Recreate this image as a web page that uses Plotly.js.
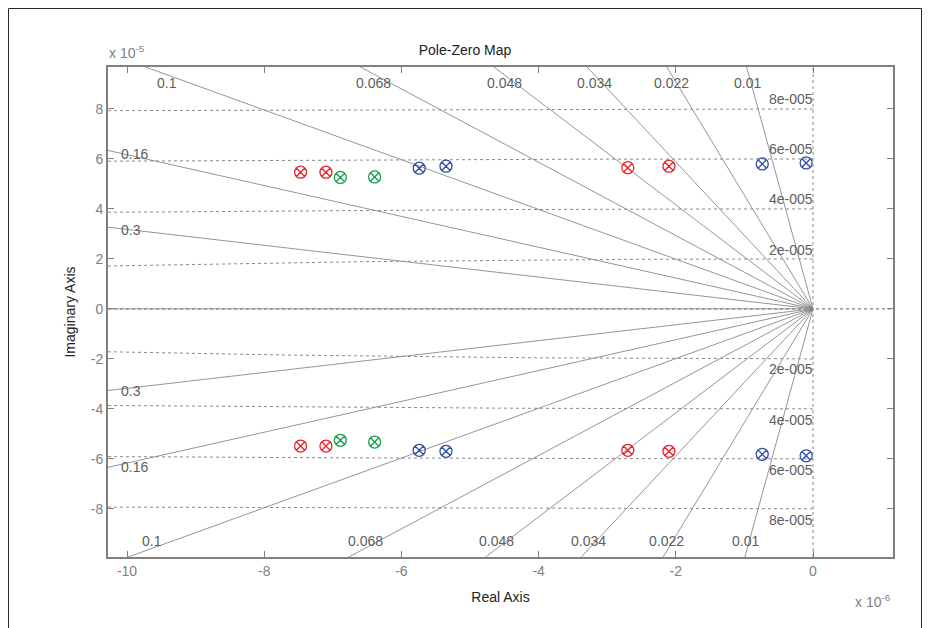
<!DOCTYPE html>
<html>
<head>
<meta charset="utf-8">
<script src="https://cdn.plot.ly/plotly-3.0.1.min.js"></script>
<style>html,body{margin:0;padding:0;background:#fff;}#chart{width:930px;height:628px;}</style>
</head>
<body>
<div id="chart"></div>
<script>
// Real parts in units of 1e-6, imaginary parts in units of 1e-5
const redReal = [-7.47, -7.10, -2.70, -2.10];
const redImagUpper = [5.47, 5.47, 5.65, 5.71];
const redImagLower = [-5.49, -5.49, -5.66, -5.70];
const greenReal = [-6.89, -6.39];
const greenImagUpper = [5.26, 5.28];
const greenImagLower = [-5.26, -5.33];
const blueReal = [-5.74, -5.35, -0.74, -0.10];
const blueImagUpper = [5.63, 5.71, 5.80, 5.84];
const blueImagLower = [-5.66, -5.70, -5.82, -5.88];

// Grid definitions
const zetaVals = [0.01, 0.022, 0.034, 0.048, 0.068, 0.1, 0.16, 0.3];
const wnVals = [2, 4, 6, 8]; // units of 1e-5
const xTicks = [-10, -8, -6, -4, -2, 0];
const yTicks = [-8, -6, -4, -2, 0, 2, 4, 6, 8];

const xRange = [-10.277, 1.166];
const yRange = [-9.93, 9.68];
const SCALE = 0.1; // (1e-6)/(1e-5) conversion of real-axis units into imag-axis units

// damping lines
const dzx = [], dzy = [];
zetaVals.forEach(z => {
  const s = Math.sqrt(1 - z * z);
  const R = 20;
  [1, -1].forEach(sg => {
    dzx.push(0, -R * z / SCALE, null);
    dzy.push(0, sg * R * s, null);
  });
});
// frequency circles
const wx = [], wy = [];
wnVals.forEach(w => {
  [1, -1].forEach(sg => {
    for (let i = 0; i <= 200; i++) {
      const x = xRange[0] + (0 - xRange[0]) * i / 200;
      const xr = x * SCALE;
      const v = w * w - xr * xr;
      wx.push(x); wy.push(v > 0 ? sg * Math.sqrt(v) : 0);
    }
    wx.push(null); wy.push(null);
  });
});

const gridColor = '#7a7a7a';
const traces = [
  {x: dzx, y: dzy, mode: 'lines', line: {color: gridColor, width: 0.8}, hoverinfo: 'skip', showlegend: false},
  {x: wx, y: wy, mode: 'lines', line: {color: '#8a8a8a', width: 1, dash: 'dot'}, hoverinfo: 'skip', showlegend: false},
  {x: [xRange[0], 0], y: [0, 0], mode: 'lines', line: {color: '#9a9a9a', width: 1}, hoverinfo: 'skip', showlegend: false},
  {x: [xRange[0], xRange[1]], y: [0, 0], mode: 'lines', line: {color: '#808080', width: 1.2, dash: 'dot'}, hoverinfo: 'skip', showlegend: false},
  {x: [0, 0], y: [yRange[0], yRange[1]], mode: 'lines', line: {color: '#8a8a8a', width: 1, dash: 'dot'}, hoverinfo: 'skip', showlegend: false}
];
function pz(xs, ys, color) {
  return {x: xs, y: ys, mode: 'markers', type: 'scatter', showlegend: false,
    marker: {symbol: 'circle-x-open', size: 12, color: color, line: {color: color, width: 1.3}}};
}
traces.push(pz(redReal, redImagUpper, '#e8242c'));
traces.push(pz(redReal, redImagLower, '#e8242c'));
traces.push(pz(greenReal, greenImagUpper, '#12a04a'));
traces.push(pz(greenReal, greenImagLower, '#12a04a'));
traces.push(pz(blueReal, blueImagUpper, '#3150a3'));
traces.push(pz(blueReal, blueImagLower, '#3150a3'));

const FF = 'Liberation Sans, Arial, sans-serif';
const labelFont = {family: FF, size: 14, color: '#5e5e5e'};
const ann = [];
const topZ = [['0.1', -9.42], ['0.068', -6.40], ['0.048', -4.50], ['0.034', -3.19], ['0.022', -2.07], ['0.01', -0.96]];
topZ.forEach(t => ann.push({x: t[1], y: 9.03, text: t[0], showarrow: false, font: labelFont, xanchor: 'center', yanchor: 'middle'}));
const botZ = [['0.1', -9.64], ['0.068', -6.53], ['0.048', -4.62], ['0.034', -3.28], ['0.022', -2.13], ['0.01', -0.99]];
botZ.forEach(t => ann.push({x: t[1], y: -9.28, text: t[0], showarrow: false, font: labelFont, xanchor: 'center', yanchor: 'middle'}));
const wnLab = [['8e-005', 8.38], ['6e-005', 6.39], ['4e-005', 4.38], ['2e-005', 2.35], ['2e-005', -2.42], ['4e-005', -4.45], ['6e-005', -6.45], ['8e-005', -8.45]];
wnLab.forEach(t => ann.push({x: 0, y: t[1], text: t[0], showarrow: false, font: labelFont, xanchor: 'right', yanchor: 'middle', xshift: 2}));
const leftZ = [['0.16', 6.19], ['0.3', 3.15], ['0.3', -3.27], ['0.16', -6.32]];
leftZ.forEach(t => ann.push({x: -10.12, y: t[1], text: t[0], showarrow: false, font: labelFont, xanchor: 'left', yanchor: 'middle'}));
const expFont = {family: FF, size: 14, color: '#808080'};
ann.push({xref: 'paper', yref: 'paper', x: 0, y: 1, xanchor: 'left', yanchor: 'bottom', yshift: 4, xshift: -1, text: 'x 10<sup>-5</sup>', showarrow: false, font: expFont});
ann.push({xref: 'paper', yref: 'paper', x: 1, y: 0, xanchor: 'right', yanchor: 'top', yshift: -33, text: 'x 10<sup>-6</sup>', showarrow: false, font: expFont});

// outer figure frame (px -> paper coords)
const pl = 108, pr = 893, pt = 67, pb = 557;
const px2x = p => (p - pl) / (pr - pl);
const px2y = p => (pb - p) / (pb - pt);
const frame = {type: 'path', xref: 'paper', yref: 'paper', layer: 'above',
  path: `M ${px2x(8.5)} ${px2y(640)} L ${px2x(8.5)} ${px2y(8.5)} L ${px2x(921.5)} ${px2y(8.5)} L ${px2x(921.5)} ${px2y(640)}`,
  line: {color: '#2a2a2a', width: 1}};

const axisCommon = {
  showgrid: false, zeroline: false, showline: true, linecolor: '#808080', linewidth: 2,
  mirror: 'ticks', ticks: 'inside', ticklen: 6, tickcolor: '#808080', tickwidth: 1,
  tickfont: {family: FF, size: 14, color: '#808080'}
};
const layout = {
  width: 930, height: 628,
  margin: {l: 108, r: 37, t: 67, b: 71},
  paper_bgcolor: '#ffffff', plot_bgcolor: '#ffffff',
  title: {text: 'Pole-Zero Map', font: {family: FF, size: 14, color: '#222222'}, x: 0.5, xanchor: 'center', y: 1 - 50 / 628, yanchor: 'middle'},
  xaxis: Object.assign({}, axisCommon, {range: xRange, tickvals: xTicks, ticktext: xTicks.map(String),
    title: {text: 'Real Axis', font: {family: FF, size: 14, color: '#222222'}, standoff: 14}}),
  yaxis: Object.assign({}, axisCommon, {range: yRange, tickvals: yTicks, ticktext: yTicks.map(String),
    title: {text: 'Imaginary Axis', font: {family: FF, size: 14, color: '#222222'}, standoff: 12}}),
  annotations: ann,
  shapes: [frame],
  showlegend: false
};
Plotly.newPlot('chart', traces, layout, {displayModeBar: false, staticPlot: true});
</script>
</body>
</html>
